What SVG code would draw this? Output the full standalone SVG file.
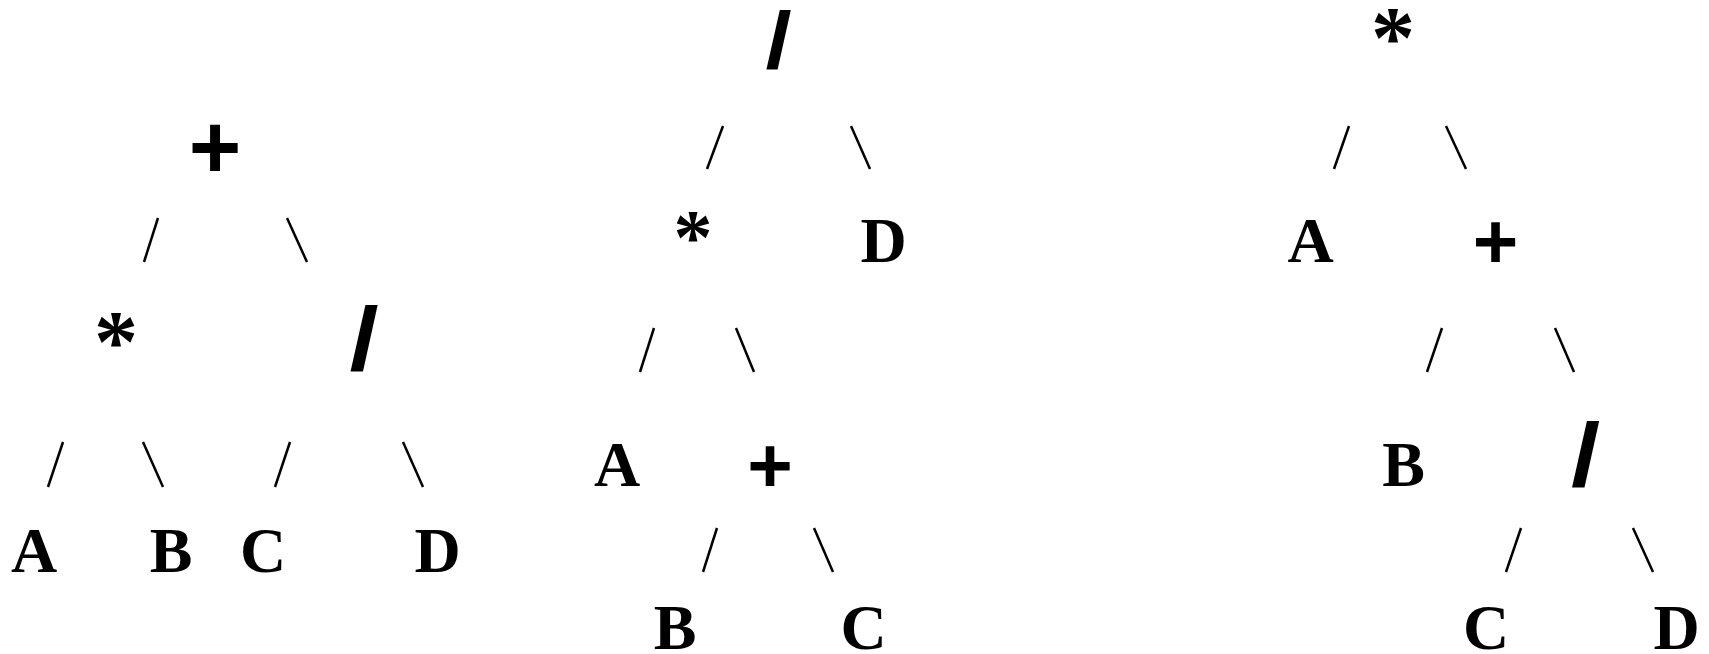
<svg xmlns="http://www.w3.org/2000/svg" width="1709" height="654" viewBox="0 0 1709 654">
<style>
.leaf{font-family:"Liberation Serif","Times New Roman",serif;font-weight:bold;font-size:64px;text-anchor:middle;fill:#000}
.op{font-family:"Liberation Sans",Arial,sans-serif;font-weight:bold;text-anchor:middle;fill:#000}
.ast{font-family:"Liberation Serif","Times New Roman",serif;font-weight:bold;text-anchor:middle;fill:#000}
.edges line{stroke:#000;stroke-width:2.5;stroke-linecap:butt}
</style>
<rect width="1709" height="654" fill="#fff"/>
<g id="connectors" class="edges">
<line x1="158" y1="218" x2="144" y2="262"/>
<line x1="287" y1="218" x2="307" y2="262"/>
<line x1="63" y1="442" x2="48" y2="487"/>
<line x1="143" y1="442" x2="163" y2="487"/>
<line x1="290" y1="442" x2="275" y2="487"/>
<line x1="403" y1="442" x2="423" y2="487"/>
<line x1="723" y1="126" x2="707" y2="169"/>
<line x1="851" y1="126" x2="870" y2="169"/>
<line x1="654" y1="328" x2="640" y2="372"/>
<line x1="736" y1="328" x2="754" y2="372"/>
<line x1="717" y1="528" x2="703" y2="572"/>
<line x1="814" y1="528" x2="833" y2="572"/>
<line x1="1349" y1="126" x2="1334" y2="169"/>
<line x1="1446" y1="126" x2="1466" y2="169"/>
<line x1="1442" y1="328" x2="1427" y2="372"/>
<line x1="1555" y1="328" x2="1574" y2="372"/>
<line x1="1521" y1="528" x2="1506" y2="572"/>
<line x1="1633" y1="528" x2="1653" y2="572"/>
</g>
<g id="t1-plus"><text class="op" x="215" y="178" font-size="90">+</text></g>
<g id="t1-mul"><text class="ast" x="116" y="371" font-size="88">*</text></g>
<g id="t1-div"><text class="op" transform="translate(364,370) scale(1.18,1)" x="0" y="0" font-size="89">/</text></g>
<g id="t1-A"><text class="leaf" x="34" y="572">A</text></g>
<g id="t1-B"><text class="leaf" x="171" y="572">B</text></g>
<g id="t1-C"><text class="leaf" x="263" y="572">C</text></g>
<g id="t1-D"><text class="leaf" x="437.5" y="572">D</text></g>
<g id="t2-div"><text class="op" transform="translate(778.5,67.5) scale(1.18,1)" x="0" y="0" font-size="80">/</text></g>
<g id="t2-mul"><text class="ast" x="693" y="263" font-size="78">*</text></g>
<g id="t2-D"><text class="leaf" x="883.5" y="262">D</text></g>
<g id="t2-A"><text class="leaf" x="617" y="486">A</text></g>
<g id="t2-plus"><text class="op" x="770" y="492" font-size="78">+</text></g>
<g id="t2-B"><text class="leaf" x="675" y="649">B</text></g>
<g id="t2-C"><text class="leaf" x="863.5" y="649">C</text></g>
<g id="t3-mul"><text class="ast" x="1393" y="67" font-size="88">*</text></g>
<g id="t3-A"><text class="leaf" x="1310.5" y="262">A</text></g>
<g id="t3-plus"><text class="op" x="1495.5" y="268" font-size="78">+</text></g>
<g id="t3-B"><text class="leaf" x="1403.5" y="486">B</text></g>
<g id="t3-div"><text class="op" transform="translate(1585.5,485.5) scale(1.18,1)" x="0" y="0" font-size="89">/</text></g>
<g id="t3-C"><text class="leaf" x="1486" y="649">C</text></g>
<g id="t3-D"><text class="leaf" x="1676.5" y="649">D</text></g>
</svg>
